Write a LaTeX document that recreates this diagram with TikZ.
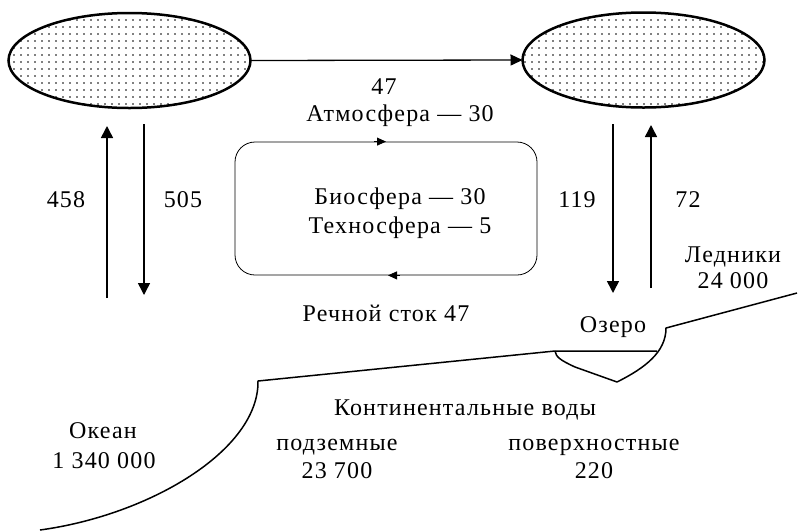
\documentclass[tikz,border=0pt]{standalone}
\usepackage{fontspec}
\setmainfont[LetterSpace=5]{Liberation Serif}
\usetikzlibrary{shapes.geometric,patterns.meta,arrows.meta}
\begin{document}
\begin{tikzpicture}[x=1pt,y=-1pt,
 lbl/.style={font=\fontsize{24}{28}\selectfont, inner sep=0pt, anchor=base},
 cloud/.style={ellipse, draw, line width=2.5pt, minimum width=242pt, minimum height=95pt, inner sep=0pt, outer sep=0pt, pattern={Dots[distance=7pt,radius=0.8pt]}},
 flow/.style={line width=1.5pt, -{Triangle[length=12pt,width=12pt]}},
 coast/.style={line width=1.5pt, line join=round}]
\useasboundingbox (0,0) rectangle (800,531);
% clouds
\node[cloud] (L) at (129.5,60.5) {};
\node[cloud] (R) at (643.5,60) {};
\draw[line width=1.3pt, -{Triangle[length=12pt,width=11pt]}] (L.east) -- (R.west);
% biosphere box
\node[draw, rounded corners=20pt, minimum width=302pt, minimum height=133pt, line width=0.8pt, inner sep=0pt] (bio) at (386,208.5) {};
\draw[line width=0.8pt, -{Triangle[length=9pt,width=8pt]}] ([xshift=-12pt]bio.north) -- (bio.north);
\draw[line width=0.8pt, -{Triangle[length=9pt,width=8pt]}] ([xshift=14pt]bio.south) -- ([xshift=2pt]bio.south);
% vertical flows
\coordinate (a1s) at (107,298); \coordinate (a1e) at (107,126);
\coordinate (a2s) at (144,124); \coordinate (a2e) at (144,295);
\coordinate (a3s) at (613,124); \coordinate (a3e) at (613,293);
\coordinate (a4s) at (651,288); \coordinate (a4e) at (651,125);
\draw[flow] (a1s) -- (a1e);
\draw[flow] (a2s) -- (a2e);
\draw[flow] (a3s) -- (a3e);
\draw[flow] (a4s) -- (a4e);
% land
\coordinate (c0) at (40,530);
\coordinate (c1) at (258,381);
\coordinate (l1) at (555,351);
\coordinate (l2) at (657,351);
\coordinate (l3) at (666,328);
\coordinate (lb) at (617,382);
\coordinate (c2) at (797,293);
\draw[coast] (c0) .. controls (150,515) and (259,450) .. (c1) -- (l1) -- (l2);
\draw[coast] (l1) .. controls (556,357) and (560,360) .. (575,367) -- (lb) .. controls (645,368) and (666,352) .. (l3) -- (c2);
% labels
\node[lbl] (t47) at (384,94) {47};
\node[lbl] (atm) at (400,121) {Атмосфера — 30};
\node[lbl] (bioT) at (400,204) {Биосфера — 30};
\node[lbl] (tech) at (400,233) {Техносфера — 5};
\node[lbl] (river) at (386,321) {Речной сток 47};
\node[lbl] (n458) at (66,207) {458};
\node[lbl] (n505) at (183,207) {505};
\node[lbl] (n119) at (577,207) {119};
\node[lbl] (n72) at (688,207) {72};
\node[lbl] (gl) at (733,262) {Ледники};
\node[lbl] (glv) at (733,288) {24 000};
\node[lbl] (lake) at (613,332) {Озеро};
\node[lbl] (cont) at (465,415) {Континентальные воды};
\node[lbl] (under) at (337,450) {подземные};
\node[lbl] (underv) at (337,478) {23 700};
\node[lbl] (surf) at (594,450) {поверхностные};
\node[lbl] (surfv) at (594,478) {220};
\node[lbl] (ocean) at (103,438) {Океан};
\node[lbl] (oceanv) at (104,468) {1 340 000};
\end{tikzpicture}
\end{document}
